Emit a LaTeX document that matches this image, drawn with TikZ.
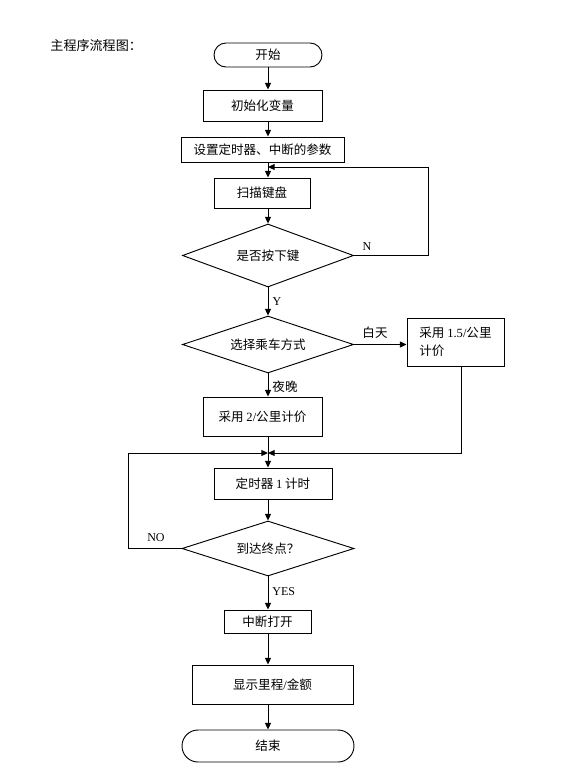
\documentclass[tikz,border=0pt]{standalone}
\usepackage{fontspec}
\setmainfont{Liberation Serif}
\newfontfamily\cjkf{Noto Sans CJK SC}
\usetikzlibrary{shapes.geometric,arrows.meta}
\begin{document}
\begin{tikzpicture}[x=0.75pt,y=-0.75pt,
  line width=0.7pt,
  >={Triangle[length=5pt,width=4.5pt]},
  box/.style={draw,rectangle,inner sep=0pt,font=\cjkf\fontsize{9.4pt}{14pt}\selectfont},
  term/.style={box,rounded corners=#1},
  dia/.style={draw,diamond,aspect=2.7,inner sep=0pt,font=\cjkf\fontsize{9.4pt}{14pt}\selectfont},
  lab/.style={inner sep=0pt,font=\rmfamily\fontsize{9pt}{11pt}\selectfont},
  clab/.style={inner sep=0pt,font=\cjkf\fontsize{9.4pt}{11pt}\selectfont}]
\fill[white] (0,0) rectangle (576,771);
\useasboundingbox (0,0) rectangle (576,771);

\node[inner sep=0pt,anchor=west,font=\cjkf\fontsize{9.8pt}{12pt}\selectfont] (title) at (50,46) {主程序流程图：};

\node[term=9pt,minimum width=81pt,minimum height=18pt] (start) at (268,55) {开始};
\node[box,minimum width=89.25pt,minimum height=23.25pt] (init) at (262.5,105.5) {初始化变量};
\node[box,minimum width=122.25pt,minimum height=18.75pt] (setp) at (262.5,149.5) {设置定时器、中断的参数};
\node[box,minimum width=72pt,minimum height=22.5pt] (scan) at (262,193) {扫描键盘};
\node[dia,minimum width=128.25pt,minimum height=47.25pt] (d1) at (268,255.5) {是否按下键};
\node[dia,minimum width=128.25pt,minimum height=42.75pt] (d2) at (268,344.5) {选择乘车方式};
\node[box,minimum width=72.75pt,minimum height=36pt,align=left] (b15) at (455.5,342) {采用 {\rmfamily 1.5/}公里\\计价};
\node[box,minimum width=89.25pt,minimum height=29.25pt] (b2) at (262.5,416.5) {采用 {\rmfamily 2/}公里计价};
\node[box,minimum width=88.5pt,minimum height=23.25pt] (timer) at (273,483.5) {定时器 {\rmfamily 1} 计时};
\node[dia,minimum width=129pt,minimum height=41.25pt] (d3) at (268,548.5) {到达终点？};
\node[box,minimum width=65.25pt,minimum height=17.25pt] (intr) at (267.5,621.5) {中断打开};
\node[box,minimum width=120.75pt,minimum height=29.25pt] (disp) at (272.5,684.5) {显示里程{\rmfamily /}金额};
\node[term=12pt,minimum width=129pt,minimum height=24pt] (end) at (268,746) {结束};

\coordinate (ax) at (268,0);
\coordinate (loopin) at (268,167);
\coordinate (nr) at (428,167);
\coordinate (jn) at (268,453);
\coordinate (rx) at (461,453);
\coordinate (lx) at (128,453);

\draw[->] (start.south) -- (start.south |- init.north);
\draw[->] (init.south -| ax) -- (setp.north -| ax);
\draw[->] (setp.south -| ax) -- (scan.north -| ax);
\draw[->] (scan.south -| ax) -- (d1.north);
\draw[->] (d1.east) -| (nr) -- (loopin);
\draw[->] (d1.south) -- (d2.north);
\draw[->] (d2.east) -- (d2.east -| b15.west);
\draw[->] (d2.south) -- (b2.north -| ax);
\draw[->] (b2.south -| ax) -- (timer.north -| ax);
\draw[->] (b15.south -| rx) -- (rx) -- (jn);
\draw[->] (d3.west) -| (lx) -- (jn);
\draw[->] (timer.south -| ax) -- (d3.north);
\draw[->] (d3.south) -- (intr.north -| ax);
\draw[->] (intr.south -| ax) -- (disp.north -| ax);
\draw[->] (disp.south -| ax) -- (end.north);

\node[lab] (nl) at (367,247) {N};
\node[lab] (yl) at (277,302) {Y};
\node[clab] (day) at (375,333) {白天};
\node[clab,anchor=west] (night) at (272,387) {夜晚};
\node[lab] (nol) at (156,538) {NO};
\node[lab,anchor=west] (yesl) at (272,592) {YES};
\end{tikzpicture}
\end{document}
